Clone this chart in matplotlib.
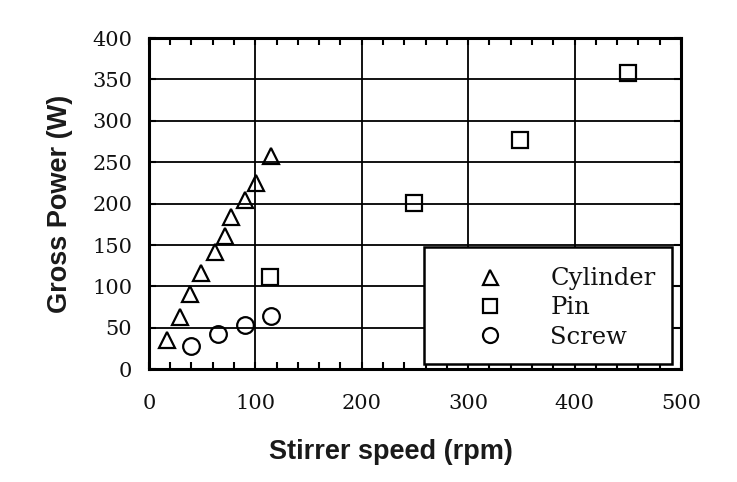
import matplotlib
matplotlib.use('Agg')
import matplotlib.pyplot as plt
from matplotlib.patches import Rectangle
from matplotlib.ticker import MultipleLocator

# data
cyl_speed = [17, 29, 39, 49, 62, 72, 77, 90, 101, 115]
cyl_power = [35, 63, 91, 116, 141, 161, 184, 204, 225, 258]
pin_speed = [114, 249, 349, 450]
pin_power = [111, 201, 277, 358]
screw_speed = [40, 65, 90, 115]
screw_power = [28, 42, 54, 64]

xticks = [0, 100, 200, 300, 400, 500]
yticks = [0, 50, 100, 150, 200, 250, 300, 350, 400]

serif = ['DejaVu Serif']
sans = ['Liberation Sans', 'DejaVu Sans']

fig = plt.figure(figsize=(7.37, 4.82), dpi=100)
ax = fig.add_axes([0.202, 0.234, 0.722, 0.687])

ax.set_xlim(0, 500)
ax.set_ylim(0, 400)
ax.set_xticks(xticks)
ax.set_yticks(yticks)
ax.xaxis.set_minor_locator(MultipleLocator(20))
ax.grid(True, which='major', color='black', linewidth=1.3)
ax.set_axisbelow(True)

for s in ax.spines.values():
    s.set_linewidth(2.2)

ax.tick_params(which='both', direction='in', top=True, right=True, width=1.5,
               colors='black', labelsize=15, length=5)
ax.tick_params(axis='x', pad=18)
ax.tick_params(axis='y', pad=12)
for lab in ax.get_xticklabels() + ax.get_yticklabels():
    lab.set_family(serif)
    lab.set_color('#111111')

mk = dict(linestyle='none', markerfacecolor='none', markeredgecolor='black',
          markeredgewidth=1.6, zorder=5)
h1, = ax.plot(cyl_speed, cyl_power, marker='^', markersize=12, label='Cylinder', **mk)
h2, = ax.plot(pin_speed, pin_power, marker='s', markersize=11, label='Pin', **mk)
h3, = ax.plot(screw_speed, screw_power, marker='o', markersize=12, label='Screw', **mk)

ax.set_xlabel('Stirrer speed (rpm)', family=sans, fontweight='bold', fontsize=19.5,
              color='#1a1a1a')
ax.xaxis.set_label_coords(0.455, -0.21)
ax.set_ylabel('Gross Power (W)', family=sans, fontweight='bold', fontsize=19.5,
              labelpad=14, color='#1a1a1a')

# legend box
box = Rectangle((0.517, 0.015), 0.466, 0.354, transform=ax.transAxes,
                facecolor='white', edgecolor='black', linewidth=1.8, zorder=8)
ax.add_patch(box)
leg = ax.legend(handles=[h1, h2, h3], loc='center', bbox_to_anchor=(0.785, 0.185),
                frameon=False, prop={'family': serif, 'size': 17.5},
                handlelength=1.0, handletextpad=2.0, labelspacing=0.25,
                markerscale=0.9)
leg.set_zorder(10)
for t in leg.get_texts():
    t.set_color('#111111')

fig.savefig('out.png', dpi=100)
